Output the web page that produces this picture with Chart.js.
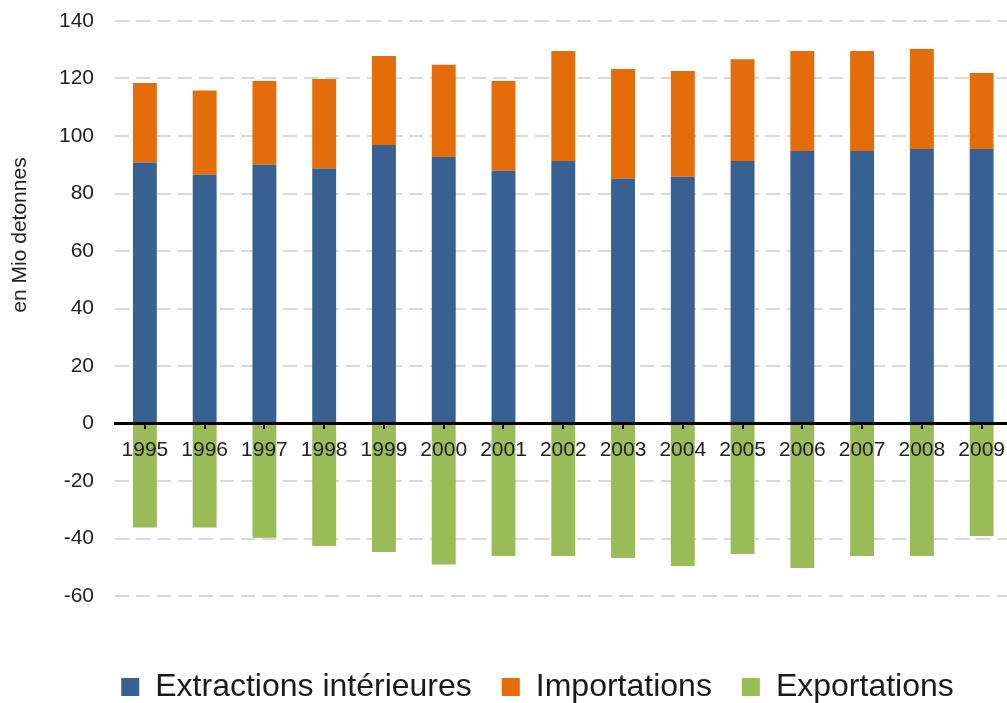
<!DOCTYPE html>
<html>
<head>
<meta charset="utf-8">
<script src="https://cdn.jsdelivr.net/npm/chart.js@4.4.0/dist/chart.umd.min.js"></script>
<style>
    html, body { margin: 0; padding: 0; background: #fff; overflow: hidden; }
    #wrap { width: 1015px; height: 713px; }
</style>
</head>
<body>
<div id="wrap"><canvas id="flowChart"></canvas></div>
<script>
const years = ['1995', '1996', '1997', '1998', '1999', '2000', '2001', '2002', '2003', '2004', '2005', '2006', '2007', '2008', '2009'];
const extractions = [90.8, 86.5, 90.0, 88.7, 96.9, 92.7, 87.9, 91.3, 85.1, 85.8, 91.3, 94.8, 94.8, 95.5, 95.5];
const importations = [27.6, 29.3, 29.1, 31.1, 30.9, 32.1, 31.2, 38.3, 38.2, 36.8, 35.4, 34.8, 34.8, 34.8, 26.4];
const exportations = [-36.2, -36.2, -39.7, -42.6, -44.7, -49.0, -46.1, -46.1, -46.8, -49.6, -45.4, -50.3, -46.1, -46.1, -39.1];
const seriesNames = ['Extractions intérieures', 'Importations', 'Exportations'];
const yMin = -60;
const yMax = 140;
const yStep = 20;
const yTitle = 'en Mio detonnes';

const FONT = '"Liberation Sans", Arial, sans-serif';

// rotated axis title, sits higher than the plot centre in the original
const yTitlePlugin = {
    id: 'yTitle',
    afterDraw(chart) {
        const ctx = chart.ctx;
        ctx.save();
        ctx.translate(20, 235);
        ctx.rotate(-Math.PI / 2);
        ctx.font = '21px ' + FONT;
        ctx.fillStyle = '#222';
        ctx.textAlign = 'center';
        ctx.textBaseline = 'middle';
        ctx.fillText(yTitle, 0, 0);
        ctx.restore();
    }
};

new Chart(document.getElementById('flowChart'), {
    type: 'bar',
    data: {
        labels: years,
        datasets: [
            { label: seriesNames[0], data: extractions, backgroundColor: '#386192' },
            { label: seriesNames[1], data: importations, backgroundColor: '#e46c0a' },
            { label: seriesNames[2], data: exportations, backgroundColor: '#9bbb59' }
        ]
    },
    options: {
        responsive: true,
        maintainAspectRatio: false,
        animation: false,
        datasets: {
            bar: { barPercentage: 0.4, categoryPercentage: 1 }
        },
        layout: { padding: { left: 60, top: 21, right: 0, bottom: 0 } },
        plugins: {
            tooltip: { enabled: false },
            legend: {
                position: 'bottom',
                // empty title only used as spacer above the legend row
                title: { display: true, text: '', font: { size: 10 }, padding: { top: 33, bottom: 0 } },
                labels: {
                    boxWidth: 18,
                    boxHeight: 18,
                    padding: 30,
                    color: '#1a1a1a',
                    font: { family: FONT, size: 32 }
                }
            }
        },
        scales: {
            x: {
                stacked: true,
                position: { y: 0 },
                grid: {
                    z: 1,
                    drawOnChartArea: false,
                    drawTicks: true,
                    tickLength: 4,
                    offset: false,
                    color: '#000',
                    lineWidth: 2
                },
                border: { z: 1, color: '#000', width: 3 },
                ticks: {
                    z: 1,
                    color: '#222',
                    padding: 10,
                    maxRotation: 0,
                    autoSkip: false,
                    font: { family: FONT, size: 21 }
                }
            },
            y: {
                stacked: true,
                min: yMin,
                max: yMax,
                afterFit(scale) { scale.width = 55; },
                grid: {
                    color: '#d9d9d9',
                    lineWidth: 2,
                    drawTicks: true,
                    tickLength: 21,
                    tickColor: 'rgba(0,0,0,0)'
                },
                border: { display: false, dash: [14, 7] },
                ticks: {
                    stepSize: yStep,
                    padding: 0,
                    color: '#222',
                    font: { family: FONT, size: 21 }
                }
            }
        }
    },
    plugins: [yTitlePlugin]
});
</script>
</body>
</html>
